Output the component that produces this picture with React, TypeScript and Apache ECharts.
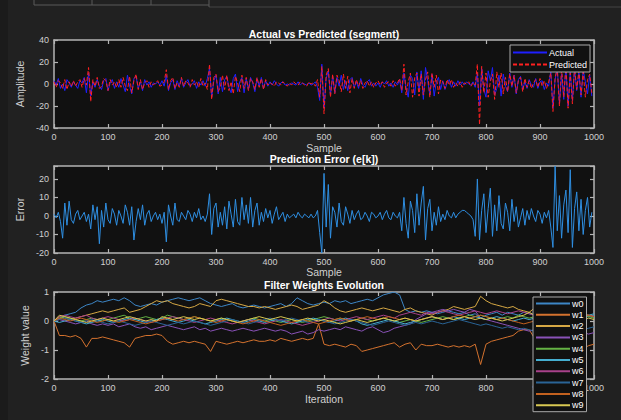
import React, { useEffect, useRef } from "react";
import * as echarts from "echarts";

const STEP = 4;
const W_STEP = 10;

const ACTUAL = [
  3, -1, 5, -4, 0, -6, 4, 1, -3, 2,
  -1, -4, 3, 1, 6, -8, 10, -11, 2, -3,
  4, -2, -5, 3, 5, -6, 1, 4, -4, 2,
  -3, 5, -1, -7, 8, -2, -9, 5, 7, -4,
  2, -6, 4, -1, 2, -3, 1, 0, 2, -1,
  3, -2, 8, -6, 1, 4, -5, 3, -2, 5,
  -3, 1, 4, -2, 0, 3, -4, 2, -1, 3,
  -2, 5, 14, -12, 3, 8, -9, 6, -7, 4,
  7, -3, -8, 5, 9, -7, 2, 6, -8, 5,
  -5, 6, 1, -7, 5, -2, 6, -4, 3, -2,
  2, -1, 3, 0, -2, 1, 2, -1, 0, -1,
  1, 0, -1, 2, -1, 1, 0, -1, 1, -1,
  0, 2, -3, -15, 18, -22, 5, 12, -10, 7,
  -8, 6, -2, 8, -5, 3, -6, 4, 6, -3,
  2, -4, 5, -1, -3, 2, 4, -2, 1, -2,
  1, -3, 2, 0, 3, -2, 1, -3, 2, -1,
  4, -8, 10, -3, -12, 8, 5, -10, 11, -6,
  12, -14, 15, 3, -10, 9, -11, 2, 6, -5,
  3, -5, 1, 4, -3, 2, -2, 3, -1, 2,
  -1, 2, 0, -1, 2, -3, 10, -20, 14, -5,
  -12, 12, 3, 15, -10, -4, 8, -11, 9, -2,
  -7, 10, -3, 8, -9, 4, 7, -5, 2, -4,
  4, -1, -3, 5, -4, 2, 3, -5, 1, -2,
  12, -22, 4, 15, -18, 9, -14, 16, -20, 12,
  -15, 14, -6, 10, -12, 13, 2, -9, 8, -11,
];

const PREDICTED = [
  2, -3, 3, 1, -4, 4, -5, 2, -2, 3,
  -2, 2, 4, -3, 5, -1, 15, -16, 4, -2,
  6, -4, -2, 5, 3, -6, 4, -1, 2, -3,
  4, -3, 6, -2, -6, 7, -8, 3, 9, -5,
  4, -5, 1, 3, -3, 2, -1, 1, 3, -2,
  -1, 2, 13, -5, 3, 6, -4, 1, -3, 6,
  -2, 3, 1, -3, 4, -1, 2, -3, 5, -2,
  1, -5, 18, -14, 6, 9, -7, -3, 8, -5,
  8, -6, 2, -9, 7, 1, -7, 8, -4, 6,
  -6, 5, 2, -5, 6, -3, 5, -5, 4, -1,
  1, 0, -2, 2, 1, -1, 2, 0, -2, 1,
  -1, 2, 0, -1, 2, 1, -1, -2, 2, 0,
  1, -2, 4, -12, 16, -27, 8, 14, -12, 9,
  -9, 8, 3, -7, 9, -4, 7, -8, 5, -4,
  4, -2, 3, -4, 1, 3, -2, 2, -3, 1,
  3, -1, 2, -3, 1, 2, -2, 3, -2, 1,
  5, -6, 18, -10, 2, 10, -12, 6, 10, -11,
  9, -10, 4, 11, -12, 10, -3, 8, -9, 4,
  2, -4, 4, -1, 4, -3, 1, -2, 2, -3,
  1, 0, 2, -2, 1, -1, 18, -37, 16, -8,
  10, -12, 2, 9, -14, 11, -3, 10, -9, 6,
  -7, 9, -2, 8, -8, 3, 6, -7, 5, -3,
  3, -4, 1, 4, -3, 5, -2, 3, -4, 2,
  10, -25, 6, 14, -20, 15, -12, 17, -22, 10,
  -18, 15, -5, 12, -10, 11, -12, 4, 9, -8,
];

const ERROR = [
  1, -1, 2, -3, -12, 7, -5, 8, -2, -4,
  1, 3, -2, 0, 2, -3, 1, -7, 6, -2,
  5, -15, 3, -6, 7, -2, -4, 4, 1, -5,
  3, 0, -4, 6, 2, -5, 5, -13, -3, 4,
  -2, 6, -5, 1, 3, -3, 0, 2, -2, 1,
  -4, 2, -14, 6, 0, -5, 7, -2, -3, 2,
  0, -2, 3, 1, -3, 2, -1, 4, -2, 0,
  -3, 1, 12, -10, 4, 7, -6, 2, -5, 5,
  -7, 8, 1, -6, 9, -3, -5, 10, -2, 6,
  -4, 10, -6, 3, 7, -5, 2, -3, 4, -1,
  3, -4, 1, 5, -2, 0, 2, -3, 1, -1,
  0, 1, -1, 2, 0, -1, 1, 0, -1, 1,
  -1, 0, 3, -9, -20, 23, -6, 17, -12, 5,
  2, -6, 7, -3, -5, 5, 1, -4, 3, -2,
  1, 3, -2, -1, 2, 0, -3, 2, 1, -1,
  0, 2, -2, 1, 3, -1, -2, 2, 0, -1,
  2, -8, 10, -4, -12, 8, 3, -9, 12, -5,
  7, 16, -13, 4, 9, -8, 2, -5, 5, -3,
  1, -2, 3, 0, -1, 2, -1, 1, 2, 3,
  3, 2, 1, 0, -2, -11, 20, -13, 3, 12,
  -9, 4, 15, -11, 6, -8, 11, -4, -7, 7,
  2, -8, 9, -3, 5, -6, -1, 4, -5, 3,
  -2, 4, 0, -3, 3, 1, -4, 2, -1, 3,
  -6, -17, 27, -8, 11, -12, 6, 14, -9, 25,
  -17, 4, 13, -8, 9, -10, 3, 10, -6, 2,
];

const W0 = [
  0, 0.1, 0.2, 0.25, 0.3, 0.45, 0.55, 0.6, 0.7, 0.65,
  0.7, 0.75, 0.7, 0.8, 0.7, 0.55, 0.5, 0.55, 0.6, 0.55,
  0.65, 0.7, 0.75, 0.8, 0.75, 0.7, 0.75, 0.8, 0.7, 0.6,
  0.55, 0.5, 0.55, 0.6, 0.5, 0.45, 0.5, 0.55, 0.5, 0.45,
  0.5, 0.55, 0.6, 0.5, 0.6, 0.8, 0.7, 0.6, 0.55, 0.6,
  0.65, 0.6, 0.7, 0.65, 0.7, 0.6, 0.65, 0.7, 0.75, 0.7,
  0.8, 0.9, 0.95, 1.0, 0.9, 0.4, 0.3, 0.35, 0.3, 0.35,
  0.3, 0.25, 0.3, 0.35, 0.3, 0.25, 0.3, 0.2, 0.25, 0.1,
  0.2, 0.25, 0.3, 0.2, 0.3, 0.25, 0.2, 0.3, 0.25, 0.2,
  0.3, 0.25, 0.2, 0.3, 0.25, 0.2, 0.3, 0.25, 0.2, 0.15, 0.2,
];
const W1 = [
  0, -0.5, -0.5, -0.55, -0.5, -0.6, -0.9, -0.6, -0.6, -0.55,
  -0.6, -0.65, -0.7, -0.75, -0.9, -0.6, -0.55, -0.5, -0.5, -0.45,
  -0.5, -0.7, -0.8, -0.75, -0.7, -0.75, -0.7, -0.75, -0.8, -1.05,
  -0.7, -0.75, -0.8, -0.75, -0.7, -0.75, -0.7, -0.65, -0.7, -0.7,
  -0.65, -0.7, -0.6, -0.65, -0.7, -0.65, -0.6, -0.65, -0.6, -0.1,
  -0.8, -0.85, -0.8, -0.85, -0.9, -0.8, -0.85, -1.05, -1.0, -0.95,
  -0.9, -0.85, -0.8, -0.75, -0.9, -0.8, -0.75, -1.0, -0.8, -0.85,
  -0.85, -0.8, -0.85, -0.9, -0.85, -0.9, -0.85, -0.9, -0.8, -1.5,
  -0.8, -0.7, -0.65, -0.6, -0.55, -0.5, -0.35, -0.3, -0.3, -0.6,
  -0.7, -0.75, -0.8, -0.7, -0.8, -0.85, -0.9, -0.85, -0.95, -0.85, -0.8,
];
const W2 = [
  0, 0.15, 0.1, 0.05, 0.1, 0.15, 0.2, 0.25, 0.3, 0.35,
  0.3, 0.35, 0.4, 0.45, 0.3, 0.35, 0.4, 0.5, 0.6, 0.7,
  0.65, 0.7, 0.6, 0.55, 0.5, 0.45, 0.5, 0.6, 0.55, 0.5,
  0.7, 0.75, 0.7, 0.65, 0.6, 0.55, 0.5, 0.5, 0.45, 0.5,
  0.45, 0.4, 0.45, 0.5, 0.55, 0.5, 0.4, 0.45, 0.5, 0.55,
  0.7, 0.6, 0.45, 0.35, 0.3, 0.35, 0.4, 0.45, 0.4, 0.35,
  0.4, 0.45, 0.4, 0.35, 0.3, 0.4, 0.45, 0.35, 0.3, 0.25,
  0.2, 0.3, 0.35, 0.4, 0.5, 0.45, 0.4, 0.45, 0.5, 0.85,
  0.7, 0.6, 0.55, 0.5, 0.45, 0.5, 0.4, 0.35, 0.3, 0.45,
  0.5, 0.4, 0.35, 0.3, 0.35, 0.3, 0.25, 0.3, 0.25, 0.2, 0.15,
];
const W3 = [
  0, 0.05, 0, -0.05, -0.1, -0.05, 0, -0.1, -0.15, -0.1,
  -0.15, -0.1, -0.2, -0.15, -0.1, -0.2, -0.25, -0.2, -0.3, -0.25,
  -0.2, -0.15, -0.2, -0.25, -0.3, -0.25, -0.2, -0.3, -0.25, -0.35,
  -0.3, -0.25, -0.3, -0.35, -0.3, -0.25, -0.3, -0.35, -0.3, -0.25,
  -0.3, -0.35, -0.3, -0.35, -0.45, -0.4, -0.35, -0.45, -0.4, -0.3,
  -0.35, -0.3, -0.25, -0.3, -0.2, -0.25, -0.3, -0.35, -0.25, -0.2,
  -0.3, -0.4, -0.35, -0.25, -0.2, -0.15, -0.1, 0.05, 0.15, 0.25,
  0.3, 0.35, 0.4, 0.35, 0.4, 0.35, 0.3, 0.4, 0.35, 0.1,
  0.05, 0, -0.05, -0.1, -0.15, -0.2, -0.25, -0.3, -0.35, -0.3,
  -0.35, -0.4, -0.35, -0.3, -0.4, -0.45, -0.4, -0.35, -0.4, -0.45, -0.4,
];
const W4 = [
  0, 0.1, 0.15, 0.1, 0.05, 0, 0.05, 0.1, 0.05, 0,
  0.05, 0.1, 0.15, 0.2, 0.1, 0.05, 0.1, 0.15, 0.1, 0.05,
  0.1, 0.2, 0.15, 0.1, 0.05, 0.1, 0.15, 0.1, 0.05, 0,
  0.05, 0.1, 0.05, 0, -0.05, 0, 0.05, 0.1, 0.05, 0,
  0.05, 0, -0.05, 0, 0.05, 0, -0.05, 0, 0.05, 0.1,
  0.15, 0.1, 0.05, 0.1, 0.05, 0, 0.05, 0.1, 0.05, 0,
  0.05, 0.1, 0.05, 0, -0.05, 0, 0.05, 0, -0.05, 0,
  0.05, 0.1, 0.15, 0.1, 0.05, 0.1, 0.15, 0.2, 0.15, 0.2,
  0.15, 0.1, 0.05, 0.1, 0.15, 0.1, 0.2, 0.15, 0.1, 0.15,
  0.2, 0.15, 0.1, 0.15, 0.2, 0.25, 0.2, 0.15, 0.2, 0.15, 0.1,
];
const W5 = [
  0, -0.05, 0, 0.05, 0, -0.05, -0.1, -0.05, 0, 0.05,
  0, -0.05, 0, 0.05, 0.1, 0.05, 0, -0.05, 0, 0.05,
  0.1, 0.05, 0, -0.05, 0, 0.05, 0, -0.05, -0.1, -0.05,
  0, 0.05, 0.1, 0.05, 0, -0.05, 0, 0.05, 0, -0.05,
  0, 0.05, 0, -0.05, -0.1, -0.05, 0, 0.05, 0.1, 0.05,
  0, -0.05, 0, 0.05, 0.1, 0.05, 0, -0.1, -0.15, -0.1,
  -0.05, 0, 0.05, 0, -0.05, -0.1, -0.05, 0, 0.05, 0.1,
  0.15, 0.1, 0.05, 0.1, 0.15, 0.1, 0.05, 0.1, 0.15, 0.1,
  0.05, 0.1, 0.15, 0.1, 0.05, 0, 0.05, 0.1, 0.05, 0.1,
  0.15, 0.2, 0.15, 0.1, 0.15, 0.2, 0.25, 0.2, 0.15, 0.2, 0.25,
];
const W6 = [
  0, 0.15, 0.2, 0.15, 0.1, 0.15, 0.2, 0.1, 0.05, 0.1,
  0.15, 0.1, 0.05, 0, 0.05, 0.1, 0.05, 0, -0.05, 0,
  0.05, 0.1, 0.15, 0.1, 0.05, 0, -0.05, 0, 0.05, 0.1,
  0.05, 0, -0.05, -0.1, -0.05, 0, 0.05, 0, -0.05, -0.1,
  -0.05, 0, 0.05, 0, -0.05, -0.1, -0.15, -0.1, -0.05, 0,
  0.05, 0.1, 0.05, 0, 0.05, 0.1, 0.15, 0.1, 0.05, 0.1,
  0.15, 0.2, 0.15, 0.1, 0.2, 0.25, 0.3, 0.25, 0.2, 0.3,
  0.25, 0.3, 0.35, 0.3, 0.25, 0.2, 0.25, 0.3, 0.35, 0.3,
  0.25, 0.3, 0.35, 0.3, 0.25, 0.3, 0.35, 0.3, 0.25, 0.2,
  0.25, 0.2, 0.15, 0.2, 0.25, 0.2, 0.15, 0.1, 0.15, 0.2, 0.15,
];
const W7 = [
  0, 0.05, 0.1, 0.05, 0, -0.05, 0, 0.05, 0, -0.05,
  -0.1, -0.05, 0, -0.05, -0.1, -0.15, -0.1, -0.05, 0, -0.05,
  -0.1, -0.15, -0.1, -0.05, -0.1, -0.05, 0, -0.05, -0.1, -0.15,
  -0.1, -0.05, 0, 0.05, 0, -0.05, -0.1, -0.05, 0, 0.05,
  0.1, 0.05, 0, 0.05, 0.1, 0.05, 0, -0.05, 0, 0.05,
  0, -0.05, -0.1, -0.05, 0, 0.05, 0, -0.05, -0.1, -0.15,
  -0.1, -0.05, 0, -0.05, -0.1, -0.15, -0.1, -0.05, -0.1, -0.05,
  0, -0.05, -0.1, -0.05, 0, 0.05, 0, -0.05, -0.1, -0.15,
  -0.1, -0.15, -0.2, -0.25, -0.2, -0.25, -0.3, -0.25, -0.3, -0.35,
  -0.3, -0.25, -0.3, -0.35, -0.3, -0.25, -0.2, -0.25, -0.3, -0.25, -0.2,
];
const W8 = [
  0, 0.1, 0.05, 0, 0.05, 0.1, 0.05, 0, -0.05, 0,
  0.05, 0, -0.05, 0, 0.05, 0, -0.05, -0.1, -0.05, 0,
  0.05, 0.1, 0.05, 0, 0.05, 0.1, 0.15, 0.1, 0.05, 0,
  -0.05, 0, 0.05, 0, -0.05, -0.1, -0.05, 0, 0.05, 0,
  -0.05, -0.1, -0.15, -0.1, -0.05, 0, 0.05, 0, -0.05, -0.1,
  -0.05, 0, 0.05, 0.1, 0.05, 0, 0.05, 0.1, 0.15, 0.1,
  0.05, 0.1, 0.15, 0.1, 0.05, 0.1, 0.05, 0, 0.05, 0.1,
  0.15, 0.1, 0.05, 0.1, 0.15, 0.2, 0.15, 0.1, 0.15, 0.2,
  0.15, 0.1, 0.05, 0.1, 0.05, 0, -0.05, -0.1, -0.05, 0,
  0.05, 0.1, 0.05, 0.1, 0.15, 0.1, 0.05, 0.1, 0.15, 0.2, 0.15,
];
const W9 = [
  0, 0.2, 0.15, 0.1, 0.05, 0, -0.05, 0, 0.05, 0.1,
  0.05, 0, 0.05, 0.1, 0.15, 0.1, 0.05, 0, 0.05, 0,
  0.15, 0.1, 0.05, 0.1, 0.15, 0.1, 0.05, 0.1, 0.05, 0,
  0.05, 0.1, 0.05, 0, -0.05, 0, 0.05, 0.1, 0.15, 0.1,
  0.05, 0.1, 0.15, 0.1, 0.05, 0, 0.05, 0.1, 0.05, 0,
  0.05, 0, -0.05, -0.1, -0.05, 0, 0.05, 0, -0.05, 0,
  0.05, 0.1, 0.05, 0, 0.05, 0.1, 0.05, 0, 0.05, 0.1,
  0.15, 0.1, 0.05, 0.1, 0.05, 0.1, 0.15, 0.1, 0.05, 0.1,
  0.05, 0.1, 0.05, 0, 0.05, 0.1, 0.15, 0.2, 0.3, 0.2,
  0.15, 0.1, 0.05, 0.1, 0.05, 0, 0.05, 0.1, 0.05, 0.1, 0.05,
];

const WEIGHTS = [W0, W1, W2, W3, W4, W5, W6, W7, W8, W9];
const WEIGHT_NAMES = ["w0", "w1", "w2", "w3", "w4", "w5", "w6", "w7", "w8", "w9"];
const WEIGHT_COLORS = [
  "#3d86c6", "#d4722e", "#d6a844", "#8a52b8", "#64b244",
  "#45aed0", "#a8418a", "#2a6496", "#c2611f", "#d8c852",
];

const FONT = "'Liberation Sans', Arial, sans-serif";
const AXIS_COLOR = "#b4b4b4";
const LABEL_COLOR = "#d0d0d0";

const GRIDS = [
  { left: 54, right: 27, top: 40, height: 88 },
  { left: 54, right: 27, top: 166, height: 87 },
  { left: 54, right: 27, top: 292, height: 87 },
];

function xAxes(gridIndex: number, name: string, nameGap: number) {
  const common = {
    type: "value",
    gridIndex,
    min: 0,
    max: 1000,
    interval: 100,
    splitLine: { show: false },
    axisLine: { show: true, onZero: false, lineStyle: { color: AXIS_COLOR, width: 1.5 } },
    axisTick: { show: true, inside: true, length: 4, lineStyle: { color: AXIS_COLOR, width: 1.2 } },
  };
  return [
    {
      ...common,
      position: "bottom",
      name,
      nameLocation: "middle",
      nameGap,
      nameTextStyle: { color: LABEL_COLOR, fontSize: 10.5, fontFamily: FONT },
      axisLabel: {
        color: LABEL_COLOR,
        fontSize: 9,
        fontFamily: FONT,
        margin: 4,
        formatter: (v: number) => String(v),
      },
    },
    { ...common, position: "top", axisLabel: { show: false } },
  ];
}

function yAxes(gridIndex: number, name: string, min: number, max: number, interval: number, nameGap: number) {
  const common = {
    type: "value",
    gridIndex,
    min,
    max,
    interval,
    splitLine: { show: false },
    axisLine: { show: true, onZero: false, lineStyle: { color: AXIS_COLOR, width: 1.5 } },
    axisTick: { show: true, inside: true, length: 4, lineStyle: { color: AXIS_COLOR, width: 1.2 } },
  };
  return [
    {
      ...common,
      position: "left",
      name,
      nameLocation: "middle",
      nameGap,
      nameTextStyle: { color: LABEL_COLOR, fontSize: 10.5, fontFamily: FONT },
      axisLabel: {
        color: LABEL_COLOR,
        fontSize: 9,
        fontFamily: FONT,
        margin: 5,
        formatter: (v: number) => (Math.abs(v % interval) < 1e-9 ? String(v) : ""),
      },
    },
    { ...common, position: "right", axisLabel: { show: false } },
  ];
}

const LEGEND_ITEM_STYLE = { color: "transparent", borderColor: "transparent", borderWidth: 0 };

export default function App() {
  const ref = useRef<HTMLDivElement>(null);

  useEffect(() => {
    document.body.style.margin = "0";
    if (!ref.current) return;
    const chart = echarts.init(ref.current, undefined, { renderer: "svg" });

    const actualData = ACTUAL.map((v, i) => [i * STEP, v]);
    const predictedData = PREDICTED.map((v, i) => [i * STEP, v]);
    const errorData = ERROR.map((v, i) => [i * STEP, v]);

    const titleStyle = { color: "#ffffff", fontSize: 10.5, fontWeight: "bold", fontFamily: FONT };

    const option: any = {
      animation: false,
      backgroundColor: "#212121",
      title: [
        { text: "Actual vs Predicted (segment)", left: 324, top: 28, textAlign: "center", textStyle: titleStyle, padding: 0 },
        { text: "Prediction Error (e[k])", left: 324, top: 153, textAlign: "center", textStyle: titleStyle, padding: 0 },
        { text: "Filter Weights Evolution", left: 324, top: 279, textAlign: "center", textStyle: titleStyle, padding: 0 },
      ],
      grid: GRIDS.map((g) => ({ ...g, show: true, backgroundColor: "#111111", borderWidth: 0 })),
      xAxis: [
        ...xAxes(0, "Sample", 14),
        ...xAxes(1, "Sample", 12),
        ...xAxes(2, "Iteration", 14),
      ],
      yAxis: [
        ...yAxes(0, "Amplitude", -40, 40, 20, 17),
        ...yAxes(1, "Error", -20, 27, 10, 17),
        ...yAxes(2, "Weight value", -2, 1, 1, 17),
      ],
      legend: [
        {
          data: ["Actual", "Predicted"],
          left: 510,
          top: 45,
          orient: "vertical",
          itemWidth: 34,
          itemHeight: 8,
          itemGap: 3,
          padding: [3, 3, 3, 2],
          backgroundColor: "#111111",
          borderColor: "#aaaaaa",
          borderWidth: 1,
          itemStyle: LEGEND_ITEM_STYLE,
          textStyle: { color: "#ffffff", fontSize: 9, fontFamily: FONT, padding: [0, 0, 0, -3] },
        },
        {
          data: WEIGHT_NAMES,
          left: 533,
          top: 297,
          orient: "vertical",
          itemWidth: 34,
          itemHeight: 8,
          itemGap: 2.3,
          padding: [2, 3, 2, 2],
          backgroundColor: "#111111",
          borderColor: "#aaaaaa",
          borderWidth: 1,
          itemStyle: LEGEND_ITEM_STYLE,
          textStyle: { color: "#ffffff", fontSize: 9, fontFamily: FONT, padding: [0, 0, 0, -3] },
        },
      ],
      graphic: [
        { type: "rect", shape: { x: 0, y: 0, width: 8, height: 420 }, style: { fill: "#1b1b1b" }, z: -1 },
        { type: "line", shape: { x1: 34, y1: 5, x2: 209, y2: 5 }, style: { stroke: "#5a5a5a", lineWidth: 1 } },
        { type: "line", shape: { x1: 209, y1: 7, x2: 621, y2: 7 }, style: { stroke: "#444444", lineWidth: 1 } },
        { type: "line", shape: { x1: 34, y1: 0, x2: 34, y2: 5 }, style: { stroke: "#5a5a5a", lineWidth: 1 } },
        { type: "line", shape: { x1: 92, y1: 0, x2: 92, y2: 5 }, style: { stroke: "#5a5a5a", lineWidth: 1 } },
        { type: "line", shape: { x1: 151, y1: 0, x2: 151, y2: 5 }, style: { stroke: "#5a5a5a", lineWidth: 1 } },
        { type: "line", shape: { x1: 209, y1: 0, x2: 209, y2: 7 }, style: { stroke: "#5a5a5a", lineWidth: 1 } },
      ],
      series: [
        {
          name: "Actual",
          type: "line",
          xAxisIndex: 0,
          yAxisIndex: 0,
          data: actualData,
          showSymbol: false,
          symbol: "none",
          color: "#1f1fff",
          lineStyle: { color: "#1f1fff", width: 1 },
        },
        {
          name: "Predicted",
          type: "line",
          xAxisIndex: 0,
          yAxisIndex: 0,
          data: predictedData,
          showSymbol: false,
          symbol: "none",
          color: "#ff2020",
          lineStyle: { color: "#ff2020", width: 1, type: [4, 2] },
        },
        {
          name: "Error",
          type: "line",
          xAxisIndex: 2,
          yAxisIndex: 2,
          data: errorData,
          showSymbol: false,
          symbol: "none",
          color: "#2f8fe2",
          lineStyle: { color: "#2f8fe2", width: 1 },
        },
        ...WEIGHTS.map((w, k) => ({
          name: WEIGHT_NAMES[k],
          type: "line",
          xAxisIndex: 4,
          yAxisIndex: 4,
          data: w.map((v, i) => [i * W_STEP, v]),
          showSymbol: false,
          symbol: "none",
          color: WEIGHT_COLORS[k],
          lineStyle: { color: WEIGHT_COLORS[k], width: 1 },
        })),
      ],
    };

    chart.setOption(option);
    return () => chart.dispose();
  }, []);

  return (
    <div
      ref={ref}
      style={{ position: "fixed", left: 0, top: 0, width: 621, height: 420, background: "#212121" }}
    />
  );
}
